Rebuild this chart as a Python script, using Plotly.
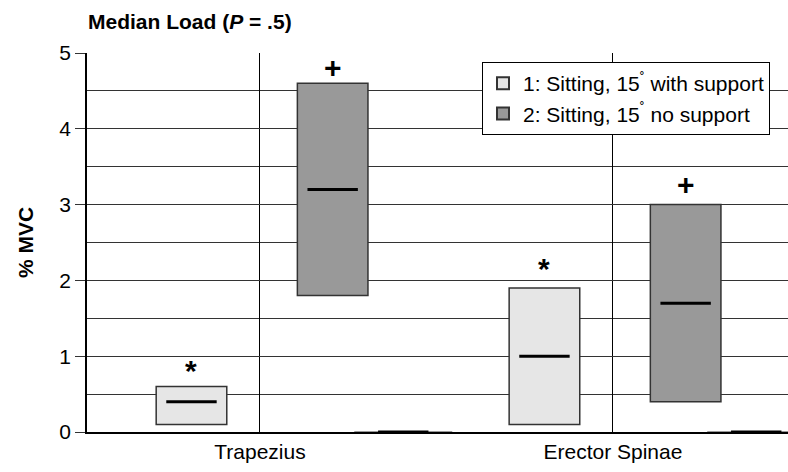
import plotly.graph_objects as go

# ---- data ----
categories = ["Trapezius", "Erector Spinae"]
cat_pos = [0, 1]
series_names = ["1: Sitting, 15<sup>˚</sup> with support", "2: Sitting, 15<sup>˚</sup> no support"]
s1_low = [0.1, 0.1]
s1_high = [0.6, 1.9]
s1_median = [0.4, 1.0]
s2_low = [1.8, 0.4]
s2_high = [4.6, 3.0]
s2_median = [3.2, 1.7]
s3_low = [0.0, 0.0]
s3_high = [0.0, 0.0]
s3_median = [0.0, 0.0]
s1_sig = ["*", "*"]
s1_sig_y = [0.85, 2.2]
s2_sig = ["+", "+"]
s2_sig_y = [4.8, 3.25]
y_ticks = [0, 1, 2, 3, 4, 5]

# ---- style ----
FONT = "Liberation Sans, Arial, sans-serif"
offsets = [-0.194, 0.206, 0.406]
bar_w = 0.2
fills = ["#e6e6e6", "#999999", "#ffffff"]

fig = go.Figure()

series = [
    (s1_low, s1_high, s1_median, series_names[0], True),
    (s2_low, s2_high, s2_median, series_names[1], True),
    (s3_low, s3_high, s3_median, "3", False),
]

for i, (lo, hi, med, name, show) in enumerate(series):
    xs = [c + offsets[i] for c in cat_pos]
    if show:
        fig.add_trace(go.Bar(
            x=xs, y=[h - l for h, l in zip(hi, lo)], base=lo, width=bar_w,
            marker=dict(color=fills[i], line=dict(color="#333333", width=1.5)),
            name=name, showlegend=True, hoverinfo="skip",
        ))
    else:
        # zero-height box: draw its outline as a flat line
        fig.add_trace(go.Scatter(
            x=xs, y=lo, mode="markers", showlegend=False, hoverinfo="skip",
            marker=dict(symbol="line-ew", size=70, color="#999999",
                        line=dict(color="#999999", width=2)),
        ))
    fig.add_trace(go.Scatter(
        x=xs, y=med, mode="markers", showlegend=False, hoverinfo="skip",
        marker=dict(symbol="line-ew", size=36, color="black",
                    line=dict(color="black", width=3)),
    ))

for i, (txt, ys) in enumerate([(s1_sig, s1_sig_y), (s2_sig, s2_sig_y)]):
    for c, t, yv in zip(cat_pos, txt, ys):
        fig.add_annotation(
            x=c + offsets[i], y=yv, text="<b>" + t + "</b>", showarrow=False,
            font=dict(family=FONT, size=30, color="black"),
            yanchor="middle", xanchor="center",
            yshift=-3 if t == "*" else 1,
        )

fig.update_layout(
    width=788, height=472,
    margin=dict(l=87, r=0, t=53, b=40),
    paper_bgcolor="white", plot_bgcolor="white",
    barmode="overlay",
    font=dict(family=FONT, size=21, color="black"),
    title=dict(
        text="<b>Median Load (<i>P</i> = .5)</b>",
        x=88 / 788, xanchor="left", xref="container",
        y=1 - 22 / 472, yanchor="middle", yref="container",
        font=dict(family=FONT, size=21, color="black"),
    ),
    legend=dict(
        x=(482 - 87) / 701, y=(432 - 62) / 379, xanchor="left", yanchor="top",
        bgcolor="white", bordercolor="black", borderwidth=1,
        font=dict(family=FONT, size=21, color="black"),
        traceorder="normal", itemsizing="constant",
        tracegroupgap=0,
    ),
    showlegend=True,
)

fig.update_xaxes(
    range=[-0.49, 1.496], tickmode="array", tickvals=cat_pos, ticktext=categories,
    showgrid=True, gridcolor="black", gridwidth=1, ticks="",
    showline=True, linecolor="black", linewidth=1.5, zeroline=False,
    tickfont=dict(family=FONT, size=21, color="black"),
)
fig.update_yaxes(
    range=[0, 5], tickmode="array", tickvals=y_ticks,
    showgrid=True, gridcolor="#333333", gridwidth=1,
    minor=dict(dtick=0.5, showgrid=True, gridcolor="#333333", gridwidth=1, ticks=""),
    ticks="outside", ticklen=10, tickcolor="#333333", tickwidth=1,
    showline=True, linecolor="black", linewidth=1.5, zeroline=False,
    tickfont=dict(family=FONT, size=21, color="black"),
    title=dict(text="<b>% MVC</b>", font=dict(family=FONT, size=21, color="black"), standoff=20),
)

fig.write_html("out.html", config={"displayModeBar": False},
               post_script="document.body.style.margin='0';")
